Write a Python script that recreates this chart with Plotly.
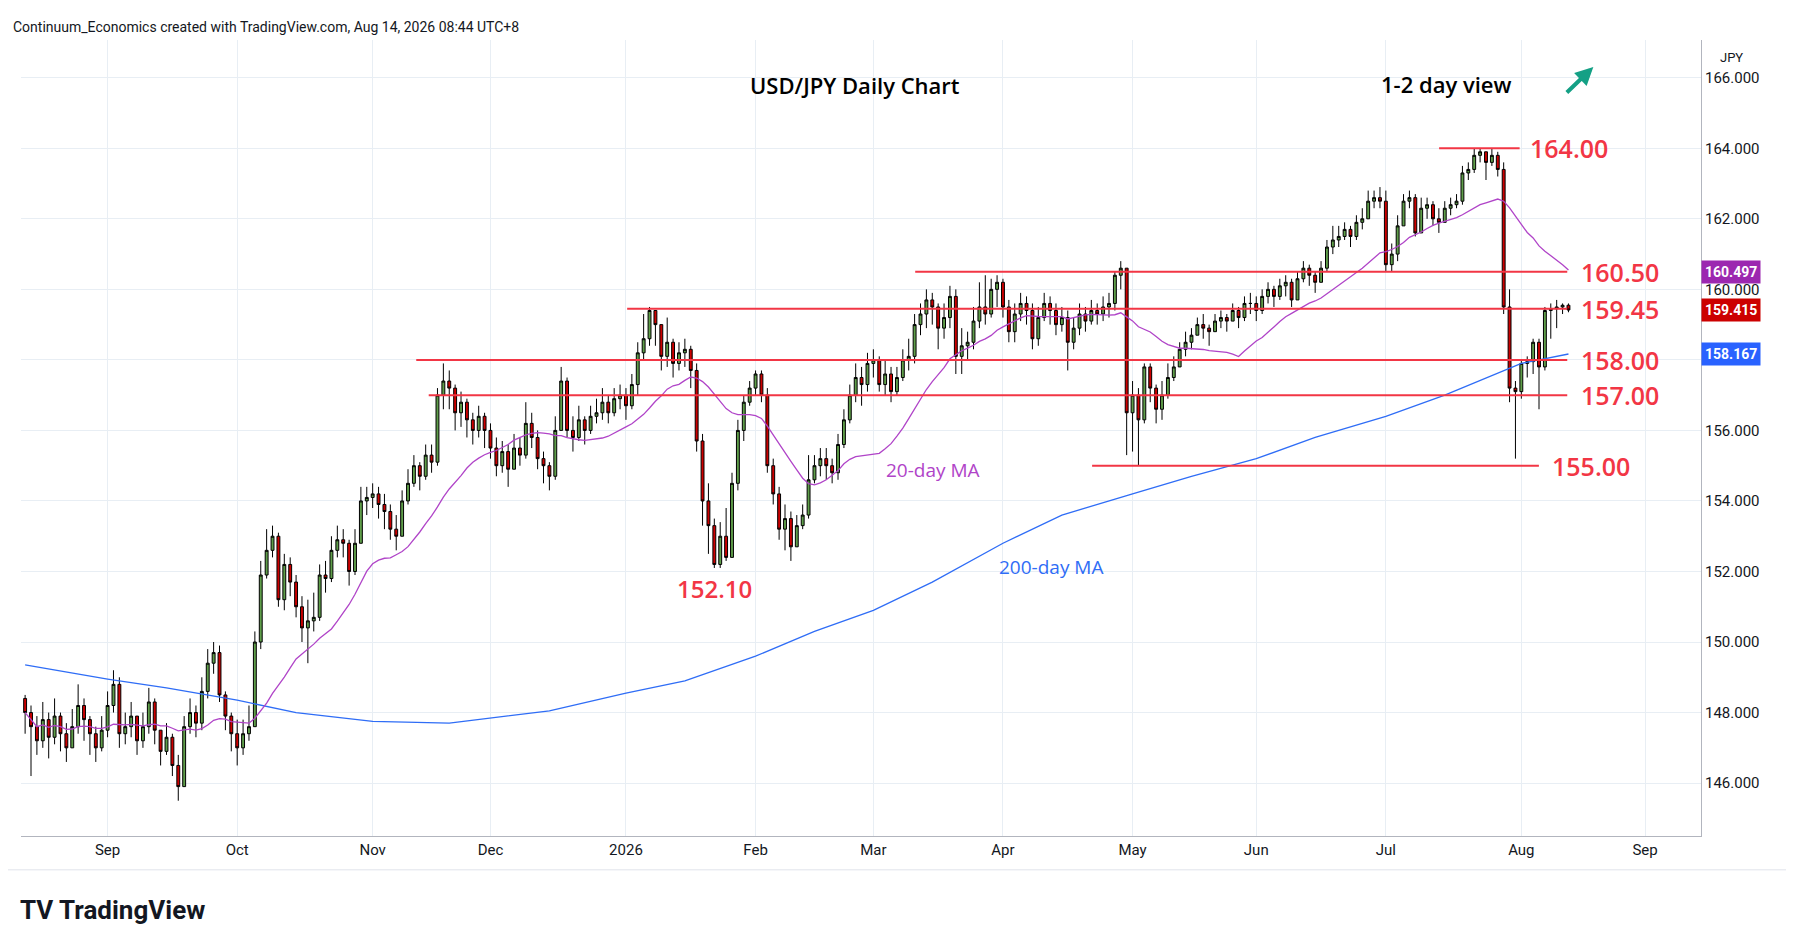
import pandas as pd
import plotly.graph_objects as go

# ---------------- data ----------------
c_aug25 = [148.0,147.6,147.2,147.8,147.3,147.9,147.4,147.0,147.6,148.2,147.8,147.4,147.0,147.5]
h_aug25 = [148.5,148.2,147.9,148.3,148.0,148.4,148.0,147.7,148.1,148.8,148.4,147.9,147.6,147.9]
l_aug25 = [147.4,146.2,146.8,147.0,146.7,147.1,146.9,146.6,147.0,147.4,147.2,146.8,146.6,146.9]
c_sep25 = [148.2,148.8,147.4,147.6,147.9,147.2,147.6,148.3,147.5,146.9,147.3,146.5,145.9,147.6,148.0,147.7,148.6,149.4,149.7,148.5,147.9,147.4]
h_sep25 = [148.6,149.2,149.0,148.0,148.3,147.9,148.0,148.7,148.4,147.5,147.7,147.4,146.8,147.9,148.4,148.2,149.0,149.8,150.0,149.9,148.6,148.0]
l_sep25 = [147.3,148.0,147.0,147.1,147.3,146.8,147.0,147.4,147.1,146.5,146.8,146.2,145.5,145.9,147.4,147.3,147.5,148.4,149.1,148.3,147.5,146.9]
c_oct25 = [147.0,147.4,147.6,150.0,151.9,152.6,153.0,151.2,152.2,151.7,151.0,150.4,150.6,150.7,151.9,151.8,152.6,152.9,152.8,152.0,152.8,154.0,154.1]
h_oct25 = [147.8,147.8,148.2,150.3,152.3,153.2,153.3,153.1,152.5,152.4,151.9,151.3,151.2,151.4,152.2,152.3,153.0,153.3,153.2,152.9,153.2,154.4,154.4]
l_oct25 = [146.5,146.8,147.2,147.6,149.8,151.8,152.4,151.0,150.9,151.3,150.7,150.0,149.4,150.3,150.6,151.4,151.7,152.4,152.4,151.6,151.9,152.8,153.6]
c_nov25 = [154.2,153.9,153.7,153.2,153.0,154.0,154.5,155.0,154.7,155.3,155.1,157.0,157.4,157.2,156.5,156.8,156.3,156.0,156.4,156.0]
h_nov25 = [154.5,154.4,154.2,153.9,153.6,154.3,154.9,155.3,155.1,155.6,155.6,157.2,157.9,157.7,157.3,157.1,156.9,156.5,156.7,156.5]
l_nov25 = [153.8,153.5,153.2,152.9,152.6,153.0,153.9,154.4,154.3,154.6,154.8,155.0,156.6,156.6,156.0,156.1,155.8,155.6,155.8,155.5]
c_dec25 = [155.5,155.0,155.4,154.9,155.5,155.3,156.2,155.8,155.2,155.0,154.7,156.0,157.4,156.0,155.8,156.3,156.0,156.4,156.5,156.8,156.5,156.9,157.0]
h_dec25 = [156.2,155.8,155.7,155.6,155.9,155.8,156.8,156.5,156.0,155.4,155.1,156.4,157.8,157.5,156.4,156.7,156.4,156.7,156.9,157.2,157.0,157.2,157.3]
l_dec25 = [155.2,154.7,154.8,154.4,154.9,155.0,155.2,155.5,154.9,154.5,154.3,154.6,156.0,155.8,155.4,155.7,155.6,155.9,156.2,156.3,156.2,156.4,156.6]
c_jan26 = [156.7,157.3,158.2,158.6,159.4,159.0,158.1,158.5,157.9,158.2,158.3,157.7,155.7,154.0,153.3,152.2,153.0,152.4,154.5,156.0,156.8,157.2]
h_jan26 = [157.2,157.6,158.5,159.3,159.5,159.4,158.6,159.2,158.6,158.5,158.6,158.4,157.9,155.9,154.5,153.5,153.4,153.8,154.8,156.3,157.0,157.4]
l_jan26 = [156.3,156.6,157.0,158.0,158.4,158.4,157.7,157.8,157.5,157.7,157.8,157.2,155.4,153.3,152.5,152.1,152.1,152.3,152.4,154.3,155.7,156.7]
c_feb26 = [157.6,157.0,155.0,154.2,153.2,153.5,152.7,153.3,153.6,154.6,155.0,155.2,155.0,154.8,155.6,156.3,157.0,157.5,157.3,157.9]
h_feb26 = [157.7,157.7,157.2,155.2,154.4,153.9,153.7,153.6,153.9,155.3,155.3,155.5,155.5,155.2,155.9,156.6,157.3,157.9,157.8,158.2]
l_feb26 = [157.0,156.8,154.8,153.9,152.9,152.6,152.3,152.7,153.2,153.5,154.5,154.7,154.6,154.5,154.6,155.5,156.2,156.8,156.7,157.1]
c_mar26 = [158.0,157.3,157.6,157.1,157.5,158.0,158.1,159.0,159.3,159.7,159.5,158.9,159.2,159.8,158.1,158.4,158.5,159.1,159.5,159.3,160.0,160.2]
h_mar26 = [158.3,158.1,158.0,157.8,157.8,158.3,158.6,159.3,159.6,160.0,159.9,159.6,159.6,160.1,160.0,158.9,158.8,159.5,160.2,160.4,160.3,160.4]
l_mar26 = [157.5,157.1,157.0,156.8,157.0,157.4,157.7,157.9,158.7,158.9,159.0,158.3,158.6,158.9,157.6,157.6,158.0,158.3,158.9,159.0,159.2,159.5]
c_apr26 = [159.5,158.8,159.3,159.6,159.4,158.6,159.2,159.6,159.4,159.0,159.2,158.5,158.9,159.3,159.1,159.4,159.3,159.5,159.6,160.4,160.6,156.5]
h_apr26 = [160.3,159.7,159.6,159.9,159.8,159.6,159.5,159.9,159.8,159.6,159.5,159.4,159.2,159.6,159.5,159.7,159.6,159.8,159.9,160.5,160.8,160.6]
l_apr26 = [159.2,158.5,158.5,159.1,159.0,158.3,158.4,159.1,159.0,158.7,158.8,157.7,158.3,158.7,158.8,159.0,159.0,159.1,159.2,159.4,160.0,155.3]
c_may26 = [157.0,156.3,157.8,157.2,156.6,157.0,157.5,157.8,158.3,158.5,158.7,159.0,158.9,158.8,159.1,159.2,159.1,159.4,159.2,159.6,159.6]
h_may26 = [157.4,157.2,157.9,157.9,157.3,157.4,157.9,158.1,158.5,158.8,158.9,159.2,159.3,159.0,159.3,159.4,159.3,159.6,159.5,159.8,159.9]
l_may26 = [155.4,155.0,156.2,156.8,156.2,156.3,156.9,157.4,157.8,158.1,158.3,158.7,158.6,158.4,158.8,158.9,158.8,159.1,158.9,159.1,159.3]
c_jun26 = [159.4,159.8,160.0,159.8,160.1,160.2,159.7,160.3,160.6,160.4,160.2,160.6,161.2,161.4,161.5,161.7,161.5,161.9,162.0,162.5,162.6,162.5]
h_jun26 = [159.8,160.0,160.2,160.1,160.3,160.4,160.3,160.5,160.8,160.7,160.5,160.8,161.4,161.8,161.8,161.9,161.8,162.1,162.3,162.8,162.8,162.9]
l_jun26 = [159.1,159.3,159.6,159.5,159.7,159.8,159.5,159.8,160.2,160.1,159.9,160.2,160.5,161.0,161.2,161.4,161.2,161.4,161.7,162.0,162.3,162.3]
c_jul26 = [160.7,161.0,161.8,162.5,162.6,161.6,162.3,162.4,162.0,161.9,162.3,162.4,162.5,163.3,163.4,163.8,163.9,163.6,163.8,163.4,159.5,157.2,157.1]
h_jul26 = [162.8,161.3,162.1,162.7,162.8,162.7,162.6,162.6,162.5,162.3,162.5,162.6,162.7,163.5,163.6,164.0,164.0,163.8,164.0,163.9,163.6,160.0,157.4]
l_jul26 = [160.5,160.5,160.8,161.9,162.3,161.5,161.6,162.0,161.8,161.6,161.9,162.1,162.3,162.4,163.1,163.3,163.6,163.1,163.5,163.2,159.3,156.8,155.2]
c_aug26 = [157.9,157.95,158.5,157.8,159.4,159.45,159.5,159.55,159.415]
h_aug26 = [158.0,158.1,158.6,158.6,159.5,159.6,159.7,159.6,159.6]
l_aug26 = [156.9,157.5,157.6,156.6,157.7,158.6,158.9,159.3,159.35]
first_open = 148.4
start_date = "2025-08-12"

ma200_dates = ["2025-08-12","2025-09-01","2025-09-15","2025-10-01","2025-10-15","2025-11-03","2025-11-20","2025-12-01",
               "2025-12-15","2026-01-01","2026-01-15","2026-02-02","2026-02-16","2026-03-02","2026-03-16","2026-04-01",
               "2026-04-15","2026-05-01","2026-05-15","2026-06-01","2026-06-15","2026-07-01","2026-07-15","2026-08-03","2026-08-13"]
ma200_vals = [149.35,148.95,148.7,148.35,148.0,147.75,147.7,147.85,148.05,148.55,148.9,149.6,150.3,150.9,151.7,152.8,
              153.6,154.2,154.7,155.2,155.8,156.4,157.0,157.9,158.167]

levels = [164.00, 160.50, 159.45, 158.00, 157.00, 155.00]
level_labels = ["164.00", "160.50", "159.45", "158.00", "157.00", "155.00"]
yticks = [146,148,150,152,154,156,158,160,162,164,166]
month_labels = ["Sep","Oct","Nov","Dec","2026","Feb","Mar","Apr","May","Jun","Jul","Aug","Sep"]

# ---------------- build ----------------
close = sum([c_aug25,c_sep25,c_oct25,c_nov25,c_dec25,c_jan26,c_feb26,c_mar26,c_apr26,c_may26,c_jun26,c_jul26,c_aug26], [])
high = sum([h_aug25,h_sep25,h_oct25,h_nov25,h_dec25,h_jan26,h_feb26,h_mar26,h_apr26,h_may26,h_jun26,h_jul26,h_aug26], [])
low = sum([l_aug25,l_sep25,l_oct25,l_nov25,l_dec25,l_jan26,l_feb26,l_mar26,l_apr26,l_may26,l_jun26,l_jul26,l_aug26], [])
opn = [first_open] + close[:-1]
high = [max(h, o, c) for h, o, c in zip(high, opn, close)]
low = [min(l, o, c) for l, o, c in zip(low, opn, close)]
n = len(close)
dates = pd.bdate_range(start_date, periods=n + 30)
idx = list(range(n))
ma20 = pd.Series(close).rolling(20, min_periods=1).mean()

def pos(d):
    return int(dates.searchsorted(pd.Timestamp(d)))

month_starts = ["2025-09-01","2025-10-01","2025-11-03","2025-12-01","2026-01-01","2026-02-02","2026-03-02",
                "2026-04-01","2026-05-01","2026-06-01","2026-07-01","2026-08-03","2026-09-01"]
tickpos = [pos(d) for d in month_starts]

GREEN = "#5f9e4a"; RED = "#cc0000"; LRED = "#f23645"; PURP = "#b044c8"; BLUE = "#2f6df6"

W, H = 1794, 946
L, R, T, B = 13, 1693, 32, 828   # plot area in pixels
fig = go.Figure()
fig.add_trace(go.Scatter(x=[pos(d) for d in ma200_dates], y=ma200_vals, mode="lines",
                         line=dict(color=BLUE, width=1.3), hoverinfo="skip"))
fig.add_trace(go.Scatter(x=idx, y=ma20, mode="lines", line=dict(color=PURP, width=1.3), hoverinfo="skip"))
fig.add_trace(go.Candlestick(x=idx, open=opn, high=high, low=low, close=close,
                             increasing=dict(line=dict(color="black", width=1), fillcolor=GREEN),
                             decreasing=dict(line=dict(color="black", width=1), fillcolor=RED),
                             whiskerwidth=0))

S = 1.134
def px(xv):  # reference view px -> paper
    return (xv * S - L) / (R - L)
def py(yv):
    return 1 - (yv * S - T) / (B - T)

segs = [(1262, 1333), (800, 1375), (546, 1375), (360, 1375), (371, 1375), (956, 1350)]
lab_x = [1340, 1385, 1385, 1385, 1385, 1360]
for lv, (a, b), lt, lx in zip(levels, segs, level_labels, lab_x):
    fig.add_shape(type="line", xref="paper", yref="y", x0=px(a), x1=px(b), y0=lv, y1=lv,
                  line=dict(color=LRED, width=2))
    fig.add_annotation(xref="paper", yref="y", x=px(lx), y=lv, text=lt, showarrow=False,
                       xanchor="left", font=dict(color=LRED, size=25, family="Open Sans", weight=600))

ann = [
    ("USD/JPY Daily Chart", 747, 68, "black", 22, "center", 600),
    ("1-2 day view", 1268, 67, "black", 22, "center", 600),
    ("20-day MA", 816, 407, PURP, 19, "center", 500),
    ("200-day MA", 920, 493, BLUE, 19, "center", 500),
    ("152.10", 623, 512, LRED, 24, "center", 600),
]
for t, xv, yv, col, sz, anc, wt in ann:
    fig.add_annotation(xref="paper", yref="paper", x=px(xv), y=py(yv), text=t,
                       showarrow=False, xanchor=anc, yanchor="middle",
                       font=dict(color=col, size=sz, family="Open Sans", weight=wt))

# arrow
fig.add_annotation(xref="paper", yref="paper", x=px(1398), y=py(52),
                   ax=-28, ay=27, axref="pixel", ayref="pixel",
                   showarrow=True, arrowhead=2, arrowsize=0.9, arrowwidth=4, arrowcolor="#14a085", text="")

# price boxes
for val, col in [(160.497, "#9c27b0"), (159.415, RED), (158.167, "#2962ff")]:
    fig.add_annotation(xref="paper", yref="y", x=1.0, y=val, text=f"<b>{val:.3f}</b>", showarrow=False,
                       xanchor="left", bgcolor=col, font=dict(color="white", size=14, family="Roboto"),
                       borderpad=3)
fig.add_annotation(xref="paper", yref="paper", x=1.01, y=py(44), text="JPY", showarrow=False,
                   xanchor="left", yanchor="middle", bgcolor="white",
                   font=dict(size=13, color="#131722", family="Roboto"))

fig.add_annotation(xref="paper", yref="paper", x=-0.006, y=py(17), yanchor="middle",
                   text="Continuum_Economics created with TradingView.com, Aug 14, 2026 08:44 UTC+8",
                   showarrow=False, xanchor="left", font=dict(size=14, color="#131722", family="Roboto"))
fig.add_annotation(xref="paper", yref="paper", x=-0.002, y=py(795), yanchor="middle",
                   text="<b>TV TradingView</b>", showarrow=False, xanchor="left",
                   font=dict(size=26, color="#131722", family="Roboto"))
fig.add_shape(type="line", xref="paper", yref="paper", x0=-0.01, x1=1.06, y0=py(760), y1=py(760),
              line=dict(color="#e0e3eb", width=1))

fig.update_layout(
    width=W, height=H, margin=dict(l=L, r=W - R, t=T, b=H - B),
    plot_bgcolor="white", paper_bgcolor="white", showlegend=False,
    xaxis=dict(range=[-0.7, n + 21.5], tickvals=tickpos, ticktext=month_labels, showgrid=True,
               gridcolor="#e8eef4", rangeslider=dict(visible=False), showline=True, linecolor="#b2b5be",
               ticks="", tickfont=dict(size=15, color="#131722", family="Roboto"), zeroline=False),
    yaxis=dict(range=[144.5, 167.07], side="right", tickvals=yticks, ticktext=[f"{v:.3f}" for v in yticks],
               showgrid=True, gridcolor="#e8eef4", showline=True, linecolor="#b2b5be", ticks="",
               tickfont=dict(size=15, color="#131722", family="Roboto"), zeroline=False),
)
fig.write_html("out.html")
